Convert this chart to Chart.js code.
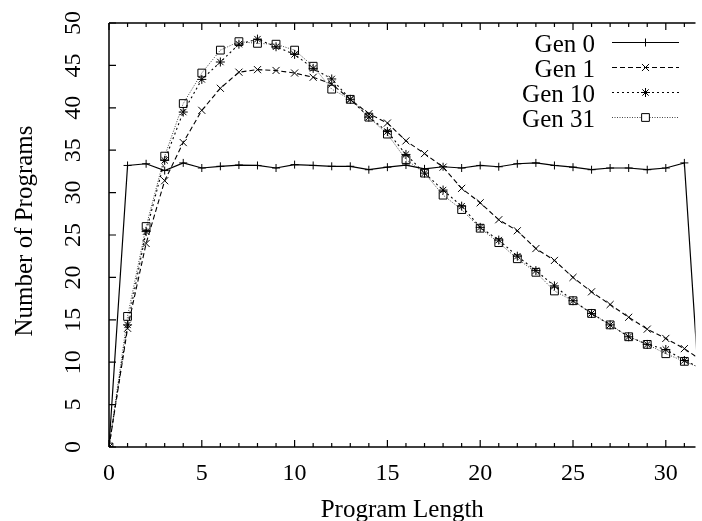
<!DOCTYPE html>
<html>
<head>
<meta charset="utf-8">
<script src="https://cdn.jsdelivr.net/npm/chart.js@4/dist/chart.umd.min.js"></script>
<style>
  html, body { margin: 0; padding: 0; background: #fff; }
  #wrap { width: 702px; height: 521px; }
</style>
</head>
<body>
<div id="wrap"><canvas id="lenchart" width="702" height="521"></canvas></div>
<script>
// program lengths 0..32 (32 is only there so the lines run off the right edge)
const lengths = [0, 1, 2, 3, 4, 5, 6, 7, 8, 9, 10, 11, 12, 13, 14, 15, 16,
                 17, 18, 19, 20, 21, 22, 23, 24, 25, 26, 27, 28, 29, 30, 31, 32];

const gen0 = [0, 33.2, 33.4, 32.6, 33.5, 32.9, 33.1, 33.25, 33.2, 32.9, 33.3, 33.2, 33.1,
              33.1, 32.7, 33.0, 33.25, 32.8, 33.05, 32.9, 33.2, 33.05, 33.4, 33.5, 33.2,
              33.0, 32.7, 32.9, 32.9, 32.7, 32.9, 33.5, 0];
const gen1 = [0, 14.0, 24.0, 31.4, 35.9, 39.7, 42.3, 44.2, 44.5, 44.4, 44.1, 43.6, 42.8,
              41.0, 39.3, 38.2, 36.1, 34.6, 33.0, 30.5, 28.8, 26.8, 25.5, 23.4, 22.0,
              20.0, 18.3, 16.8, 15.3, 13.9, 12.8, 11.6, 10.1];
const gen10 = [0, 14.4, 25.4, 33.8, 39.5, 43.35, 45.4, 47.5, 48.1, 47.2, 46.3, 44.65, 43.4,
               41.0, 38.9, 37.2, 34.5, 32.3, 30.3, 28.4, 25.9, 24.4, 22.5, 20.8, 19.0,
               17.25, 15.75, 14.4, 13.0, 12.1, 11.5, 10.2, 9.2];
const gen31 = [0, 15.4, 26.0, 34.3, 40.5, 44.1, 46.8, 47.8, 47.6, 47.5, 46.8, 44.9, 42.2,
               41.0, 38.9, 36.9, 33.9, 32.3, 29.7, 28.0, 25.8, 24.1, 22.2, 20.6, 18.4,
               17.25, 15.75, 14.4, 13.0, 12.1, 11.0, 10.1, 9.2];

const seriesNames = ["Gen 0", "Gen 1", "Gen 10", "Gen 31"];
const xTicks = [0, 5, 10, 15, 20, 25, 30];
const yTicks = [0, 5, 10, 15, 20, 25, 30, 35, 40, 45, 50];

const FONT = '"Liberation Serif", "DejaVu Serif", serif';

const toPts = (ys) => lengths.map((x, i) => ({ x: x, y: ys[i] }));

// gnuplot style frame: inward ticks, labels, titles, legend
const framePlugin = {
    id: 'frame',
    afterDraw(chart) {
        const ctx = chart.ctx;
        const a = chart.chartArea;
        const xs = chart.scales.x;
        const ys = chart.scales.y;
        ctx.save();
        ctx.strokeStyle = '#000';
        ctx.lineWidth = 1.5;

        // borders (left, top, bottom)
        ctx.beginPath();
        ctx.moveTo(a.left, a.top);
        ctx.lineTo(a.left, a.bottom);
        ctx.moveTo(a.left, a.top);
        ctx.lineTo(a.right, a.top);
        ctx.moveTo(a.left, a.bottom);
        ctx.lineTo(a.right, a.bottom);
        ctx.stroke();

        // x ticks, every 1 minor, every 5 major, bottom and top
        ctx.lineWidth = 1.2;
        ctx.beginPath();
        for (let v = 0; v <= 31; v++) {
            const px = xs.getPixelForValue(v);
            const len = (v % 5 === 0) ? 7 : 4;
            ctx.moveTo(px, a.bottom);
            ctx.lineTo(px, a.bottom - len);
            ctx.moveTo(px, a.top);
            ctx.lineTo(px, a.top + len);
        }
        // y ticks
        yTicks.forEach(v => {
            const py = ys.getPixelForValue(v);
            ctx.moveTo(a.left, py);
            ctx.lineTo(a.left + 7, py);
        });
        ctx.stroke();

        ctx.fillStyle = '#000';
        ctx.font = '24px ' + FONT;

        // x tick labels
        ctx.textAlign = 'center';
        ctx.textBaseline = 'alphabetic';
        xTicks.forEach(v => {
            ctx.fillText(String(v), xs.getPixelForValue(v), 480);
        });

        // y tick labels, rotated
        yTicks.forEach(v => {
            ctx.save();
            ctx.translate(80, ys.getPixelForValue(v));
            ctx.rotate(-Math.PI / 2);
            ctx.textAlign = 'center';
            ctx.fillText(String(v), 0, 0);
            ctx.restore();
        });

        // axis titles
        ctx.font = '25px ' + FONT;
        ctx.textAlign = 'center';
        ctx.fillText('Program Length', (a.left + a.right) / 2, 517);
        ctx.save();
        ctx.translate(32, 231);
        ctx.rotate(-Math.PI / 2);
        ctx.fillText('Number of Programs', 0, 0);
        ctx.restore();

        // legend
        chart.data.datasets.forEach((ds, i) => {
            const base = 51.5 + i * 25;
            const ly = base - 9;
            ctx.textAlign = 'right';
            ctx.fillStyle = '#000';
            ctx.fillText(ds.label, 595, base);

            ctx.save();
            ctx.strokeStyle = ds.borderColor;
            ctx.lineWidth = ds.borderWidth;
            ctx.setLineDash(ds.borderDash || []);
            ctx.beginPath();
            ctx.moveTo(612, ly);
            ctx.lineTo(679, ly);
            ctx.stroke();
            ctx.setLineDash([]);
            if (Chart.helpers && Chart.helpers.drawPoint) {
                ctx.strokeStyle = '#000';
                ctx.fillStyle = '#fff';
                ctx.lineWidth = 1;
                Chart.helpers.drawPoint(ctx, {
                    pointStyle: ds.pointStyle,
                    radius: ds.pointRadius,
                    rotation: 0,
                    borderWidth: 1
                }, 645.5, ly);
            }
            ctx.restore();
        });

        ctx.restore();
    }
};

const ctx = document.getElementById('lenchart').getContext('2d');

const lenchart = new Chart(ctx, {
    type: 'line',
    data: {
        datasets: [
            {
                label: seriesNames[0],
                data: toPts(gen0),
                borderColor: '#000',
                borderWidth: 1.2,
                pointStyle: 'cross',
                pointRadius: 4,
                pointBorderColor: '#000',
                pointBorderWidth: 1
            },
            {
                label: seriesNames[1],
                data: toPts(gen1),
                borderColor: '#000',
                borderWidth: 1.1,
                borderDash: [5, 3],
                pointStyle: 'crossRot',
                pointRadius: 5,
                pointBorderColor: '#000',
                pointBorderWidth: 1
            },
            {
                label: seriesNames[2],
                data: toPts(gen10),
                borderColor: '#000',
                borderWidth: 1.1,
                borderDash: [2, 3],
                pointStyle: 'star',
                pointRadius: 4.5,
                pointBorderColor: '#000',
                pointBorderWidth: 1
            },
            {
                label: seriesNames[3],
                data: toPts(gen31),
                borderColor: '#444',
                borderWidth: 1,
                borderDash: [1, 1.5],
                pointStyle: 'rect',
                pointRadius: 5.5,
                pointBorderColor: '#000',
                pointBackgroundColor: 'rgba(255,255,255,0)',
                pointBorderWidth: 1
            }
        ]
    },
    options: {
        responsive: false,
        animation: false,
        layout: { padding: { left: 109, top: 23, right: 0, bottom: 74 } },
        elements: { line: { tension: 0, fill: false } },
        plugins: {
            legend: { display: false },
            tooltip: { enabled: false },
            title: { display: false }
        },
        scales: {
            x: { type: 'linear', display: false, min: 0, max: 31.6 },
            y: { type: 'linear', display: false, min: 0, max: 50 }
        }
    },
    plugins: [framePlugin]
});
</script>
</body>
</html>
